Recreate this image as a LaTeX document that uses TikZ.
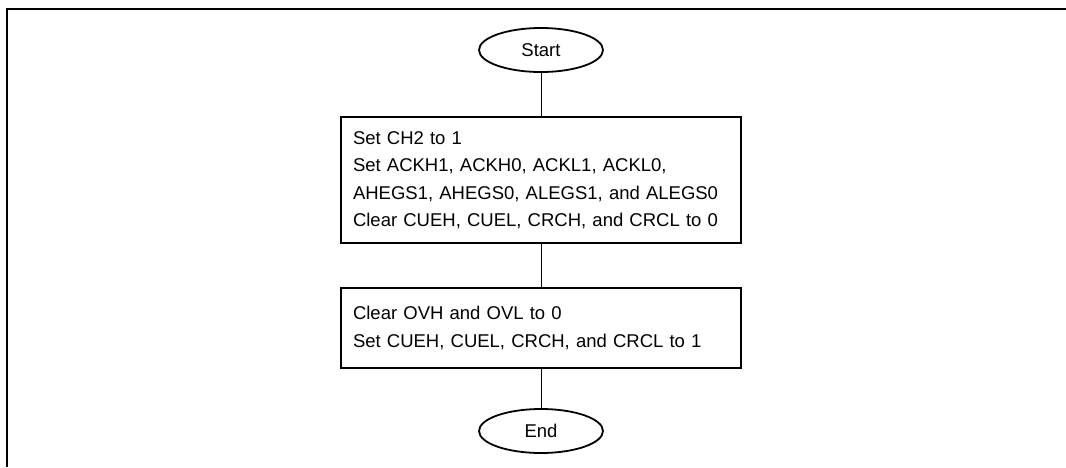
\documentclass[tikz,border=0pt]{standalone}
\usepackage{fontspec}
\setmainfont{Liberation Sans}
\usetikzlibrary{shapes.geometric}

\newcommand*{\picw}{1066}
\newcommand*{\pich}{467}
\newcommand*{\midx}{541}

\begin{document}
\begin{tikzpicture}
[
	x=1pt, y=-1pt,
	terminal/.style={ellipse,draw,line width=1.8pt,minimum width=124pt,minimum height=44pt,inner sep=0pt,font=\fontsize{18.5}{22}\selectfont},
	process/.style={rectangle,draw,line width=1.8pt,minimum width=400pt,text width=376pt,align=left,inner sep=11pt,font=\fontsize{18.5}{27.5}\selectfont},
	link/.style={line width=1pt}
]

	\useasboundingbox (0,0) rectangle (\picw,\pich);

	% frame
	\draw[line width=2pt] (7,\pich) -- (7,9) -- (\picw,9);

	% nodes
	\node[terminal] (start) at (\midx,50) {Start};
	\node[process,minimum height=126pt] (init) at (\midx,180)
		{Set CH2 to 1\\
		 Set ACKH1, ACKH0, ACKL1, ACKL0,\\
		 AHEGS1, AHEGS0, ALEGS1, and ALEGS0\\
		 Clear CUEH, CUEL, CRCH, and CRCL to 0};
	\node[process,minimum height=80pt] (flags) at (\midx,328)
		{Clear OVH and OVL to 0\\
		 Set CUEH, CUEL, CRCH, and CRCL to 1};
	\node[terminal] (end) at (\midx,431) {End};

	% connectors
	\draw[link] (start) -- (init);
	\draw[link] (init) -- (flags);
	\draw[link] (flags) -- (end);

\end{tikzpicture}
\end{document}
